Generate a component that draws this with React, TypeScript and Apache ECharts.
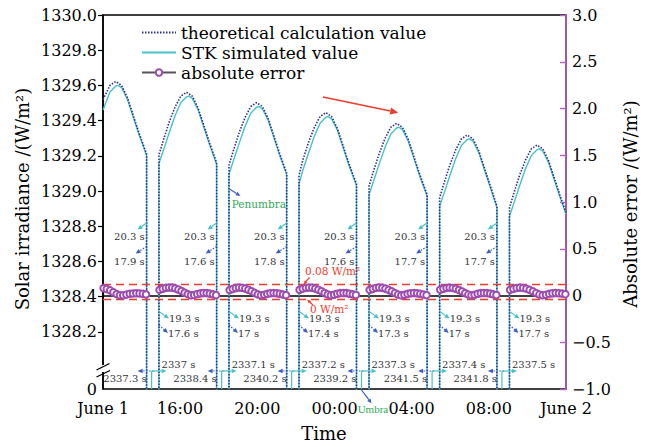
import React, { useEffect, useRef } from 'react';
import * as echarts from 'echarts';

// ---------------- data ----------------
const xTickHours = [0, 4, 8, 12, 16, 20, 24];
const xTickLabels = ['June 1', '16:00', '20:00', '00:00', '04:00', '08:00', 'June 2'];
const leftTickValues = [1328.2, 1328.4, 1328.6, 1328.8, 1329.0, 1329.2, 1329.4, 1329.6, 1329.8, 1330.0];
const leftAxisMin = 1327.875; // broken axis: bottom of axis is labelled 0
const leftAxisMax = 1330.0;

// eclipse entry / exit, hours after 12:00 June 1
const eclipseStart = [2.26, 5.89, 9.52, 13.14, 16.8, 20.42];
const eclipseEnd = [2.9, 6.53, 10.16, 13.79, 17.45, 21.07];

// [hour, W/m2]
const theoreticalValue: number[][] = [
  [0, 1329.52], [0.36, 1329.6], [0.66, 1329.622], [0.96, 1329.6], [1.26, 1329.532], [1.56, 1329.432], [1.86, 1329.332], [2.26, 1329.21],
  [2.26, 0], [2.9, 0],
  [2.9, 1329.205], [3.13, 1329.289], [3.43, 1329.391], [3.73, 1329.476], [4.03, 1329.539], [4.33, 1329.561], [4.63, 1329.539], [4.93, 1329.471], [5.23, 1329.371], [5.53, 1329.271], [5.89, 1329.161],
  [5.89, 0], [6.53, 0],
  [6.53, 1329.146], [6.76, 1329.23], [7.06, 1329.332], [7.36, 1329.417], [7.66, 1329.48], [7.96, 1329.502], [8.26, 1329.48], [8.56, 1329.412], [8.86, 1329.312], [9.16, 1329.212], [9.52, 1329.102],
  [9.52, 0], [10.16, 0],
  [10.16, 1329.089], [10.35, 1329.173], [10.65, 1329.275], [10.95, 1329.36], [11.25, 1329.423], [11.55, 1329.445], [11.85, 1329.423], [12.15, 1329.355], [12.45, 1329.255], [12.75, 1329.155], [13.14, 1329.04],
  [13.14, 0], [13.79, 0],
  [13.79, 1329.028], [14.02, 1329.112], [14.32, 1329.214], [14.62, 1329.299], [14.92, 1329.362], [15.22, 1329.384], [15.52, 1329.362], [15.82, 1329.294], [16.12, 1329.194], [16.42, 1329.094], [16.8, 1328.98],
  [16.8, 0], [17.45, 0],
  [17.45, 1328.962], [17.68, 1329.046], [17.98, 1329.148], [18.28, 1329.233], [18.58, 1329.296], [18.88, 1329.318], [19.18, 1329.296], [19.48, 1329.228], [19.78, 1329.128], [20.08, 1329.028], [20.42, 1328.915],
  [20.42, 0], [21.07, 0],
  [21.07, 1328.905], [21.3, 1328.989], [21.6, 1329.091], [21.9, 1329.176], [22.2, 1329.239], [22.5, 1329.261], [22.8, 1329.239], [23.1, 1329.171], [23.4, 1329.071], [23.7, 1328.971], [24.0, 1328.878],
];

const stkValue: number[][] = [
  [0, 1329.46], [0.36, 1329.562], [0.66, 1329.596], [0.78, 1329.6], [0.96, 1329.587], [1.26, 1329.522], [1.56, 1329.422], [1.86, 1329.322], [2.26, 1329.202],
  [2.26, 0], [2.9, 0],
  [2.9, 1329.156], [3.13, 1329.231], [3.43, 1329.331], [3.73, 1329.426], [4.03, 1329.501], [4.33, 1329.535], [4.45, 1329.539], [4.63, 1329.526], [4.93, 1329.461], [5.23, 1329.361], [5.53, 1329.261], [5.89, 1329.151],
  [5.89, 0], [6.53, 0],
  [6.53, 1329.097], [6.76, 1329.172], [7.06, 1329.272], [7.36, 1329.367], [7.66, 1329.442], [7.96, 1329.476], [8.08, 1329.48], [8.26, 1329.467], [8.56, 1329.402], [8.86, 1329.302], [9.16, 1329.202], [9.52, 1329.092],
  [9.52, 0], [10.16, 0],
  [10.16, 1329.04], [10.35, 1329.115], [10.65, 1329.215], [10.95, 1329.31], [11.25, 1329.385], [11.55, 1329.419], [11.67, 1329.423], [11.85, 1329.41], [12.15, 1329.345], [12.45, 1329.245], [12.75, 1329.145], [13.14, 1329.03],
  [13.14, 0], [13.79, 0],
  [13.79, 1328.979], [14.02, 1329.054], [14.32, 1329.154], [14.62, 1329.249], [14.92, 1329.324], [15.22, 1329.358], [15.34, 1329.362], [15.52, 1329.349], [15.82, 1329.284], [16.12, 1329.184], [16.42, 1329.084], [16.8, 1328.97],
  [16.8, 0], [17.45, 0],
  [17.45, 1328.913], [17.68, 1328.988], [17.98, 1329.088], [18.28, 1329.183], [18.58, 1329.258], [18.88, 1329.292], [19.0, 1329.296], [19.18, 1329.283], [19.48, 1329.218], [19.78, 1329.118], [20.08, 1329.018], [20.42, 1328.905],
  [20.42, 0], [21.07, 0],
  [21.07, 1328.856], [21.3, 1328.931], [21.6, 1329.031], [21.9, 1329.126], [22.2, 1329.201], [22.5, 1329.235], [22.62, 1329.239], [22.8, 1329.226], [23.1, 1329.161], [23.4, 1329.061], [23.7, 1328.961], [24.0, 1328.868],
];

// absolute error samples (W/m2) in each sunlit arc, roughly every 10 min
const errorSeg1 = [0.077, 0.07, 0.055, 0.035, 0.015, 0.003, 0.002, 0.01, 0.018, 0.022, 0.024, 0.022, 0.018, 0.012];
const errorSeg2 = [0.06, 0.072, 0.082, 0.086, 0.084, 0.076, 0.064, 0.048, 0.03, 0.014, 0.003, 0.006, 0.016, 0.023, 0.026, 0.025, 0.02, 0.012, 0.004];
const errorSeg3 = [0.058, 0.07, 0.08, 0.085, 0.083, 0.075, 0.062, 0.046, 0.028, 0.012, 0.002, 0.007, 0.017, 0.024, 0.026, 0.024, 0.019, 0.011, 0.004];
const errorSeg4 = [0.062, 0.073, 0.082, 0.086, 0.083, 0.074, 0.061, 0.045, 0.027, 0.011, 0.002, 0.008, 0.018, 0.025, 0.027, 0.025, 0.019, 0.012, 0.005];
const errorSeg5 = [0.06, 0.071, 0.081, 0.085, 0.082, 0.074, 0.06, 0.044, 0.026, 0.01, 0.001, 0.007, 0.017, 0.024, 0.026, 0.024, 0.018, 0.011, 0.004];
const errorSeg6 = [0.061, 0.072, 0.081, 0.084, 0.081, 0.072, 0.059, 0.043, 0.025, 0.01, 0.002, 0.008, 0.018, 0.025, 0.027, 0.025, 0.02, 0.012, 0.005];
const errorSeg7 = [0.06, 0.071, 0.08, 0.084, 0.081, 0.073, 0.06, 0.044, 0.026, 0.01, 0.002, 0.008, 0.017, 0.024, 0.026, 0.024, 0.02, 0.014];
const errorSegments = [errorSeg1, errorSeg2, errorSeg3, errorSeg4, errorSeg5, errorSeg6, errorSeg7];

const errorBandTop = 0.115; // dashed reference lines (drawn at marker edges)
const errorBandBottom = -0.035;

// annotation texts for each eclipse
const penumbraInSTK = ['20.3 s', '20.3 s', '20.3 s', '20.3 s', '20.3 s', '20.3 s'];
const penumbraInTheo = ['17.9 s', '17.6 s', '17.8 s', '17.6 s', '17.7 s', '17.7 s'];
const penumbraOutSTK = ['19.3 s', '19.3 s', '19.3 s', '19.3 s', '19.3 s', '19.3 s'];
const penumbraOutTheo = ['17.6 s', '17 s', '17.4 s', '17.3 s', '17 s', '17.7 s'];
const umbraSTK = ['2337 s', '2337.1 s', '2337.2 s', '2337.3 s', '2337.4 s', '2337.5 s'];
const umbraTheo = ['2337.3 s', '2338.4 s', '2340.2 s', '2339.2 s', '2341.5 s', '2341.8 s'];

// ---------------- styles ----------------
const SERIF = 'DejaVu Serif';
const NAVY = '#2b2f8f';
const CYAN = '#46c2c8';
const BLUE = '#3a5cc8';
const PURPLE = '#b65ec4';
const MARKER = '#9c4cae';
const RED = '#ee3b2b';
const GREEN = '#33a85a';
const TXT = '#333';

function buildErrorData(): (number[] | null)[] {
  const out: (number[] | null)[] = [];
  errorSegments.forEach((vals, i) => {
    const a = i === 0 ? 0 : eclipseEnd[i - 1];
    const b = i === errorSegments.length - 1 ? 24 : eclipseStart[i];
    const step = (b - a - 0.06) / (vals.length - 1);
    vals.forEach((v, j) => out.push([a + 0.03 + j * step, v]));
    out.push(null);
  });
  return out;
}

function arrow(x1: number, y1: number, x2: number, y2: number, color: string, dotted: boolean, head = 5, lw = 1.2) {
  const ang = Math.atan2(y2 - y1, x2 - x1);
  const bx = x2 - head * Math.cos(ang);
  const by = y2 - head * Math.sin(ang);
  const w = head * 0.45;
  const px = -Math.sin(ang) * w;
  const py = Math.cos(ang) * w;
  return [
    { type: 'line', z: 50, silent: true, shape: { x1, y1, x2: bx, y2: by }, style: { stroke: color, lineWidth: lw, lineDash: dotted ? [1.5, 1.5] : null } },
    { type: 'polygon', z: 50, silent: true, shape: { points: [[x2, y2], [bx + px, by + py], [bx - px, by - py]] }, style: { fill: color } },
  ];
}

function txt(s: string, x: number, y: number, align: string, color = TXT, size = 10, rotation = 0, family = SERIF) {
  return {
    type: 'text', z: 60, silent: true, x, y, rotation,
    style: { text: s, fill: color, fontSize: size, fontFamily: family, align, verticalAlign: 'middle' },
  };
}

function buildGraphics(chart: any) {
  const X = (t: number) => chart.convertToPixel({ xAxisIndex: 0 }, t) as number;
  const g: any[] = [];
  eclipseStart.forEach((s, i) => {
    const sx = X(s);
    const ex = X(eclipseEnd[i]);
    // ingress penumbra
    g.push(...arrow(sx, 223, sx - 9, 229.5, CYAN, false));
    g.push(txt(penumbraInSTK[i], sx - 2, 236, 'right'));
    g.push(...arrow(sx, 246.5, sx - 11, 253.5, BLUE, true));
    g.push(txt(penumbraInTheo[i], sx - 2, 261, 'right'));
    // egress penumbra
    g.push(...arrow(ex, 311.5, ex + 10, 318.5, CYAN, false));
    g.push(txt(penumbraOutSTK[i], ex + 10, 318.5, 'left'));
    g.push(...arrow(ex, 325, ex + 9, 333, BLUE, true));
    g.push(txt(penumbraOutTheo[i], ex + 9, 333, 'left'));
    // umbra durations
    g.push({ type: 'line', z: 50, silent: true, shape: { x1: sx + 5, y1: 371, x2: sx + 5, y2: 389 }, style: { stroke: CYAN, lineWidth: 1.2 } });
    g.push(...arrow(sx + 7, 371, sx - 9, 371, BLUE, true));
    g.push(...arrow(sx + 5, 371, sx + 20, 371, CYAN, false));
    g.push(txt(umbraSTK[i], sx + 15, 364, 'left'));
    g.push(txt(umbraTheo[i], sx, 378.5, 'right'));
  });
  // Penumbra / Umbra labels
  g.push(...arrow(X(6.58), 189.3, X(7.12), 196, BLUE, false, 4.5));
  g.push(txt('Penumbra', X(6.67), 203.5, 'left', GREEN, 10.5));
  g.push(...arrow(X(13.4), 390, X(13.92), 403.3, BLUE, false, 4.5));
  g.push(txt('Umbra', X(13.2), 409, 'left', GREEN, 11, 0, 'Liberation Serif'));
  // error band labels
  g.push(...arrow(X(10.7), 277.5, X(10.4), 284.5, RED, false, 4));
  g.push(txt('0.08 W/m²', X(10.47), 271, 'left', RED, 10.5));
  g.push(...arrow(X(10.88), 305, X(10.58), 299.5, RED, false, 4));
  g.push(txt('0 W/m²', X(10.73), 308.5, 'left', RED, 10.5));
  // trend arrow
  g.push(...arrow(X(11.4), 97, X(15.3), 112.7, RED, false, 8, 1.5));
  // broken axis mark
  const ax = X(0);
  g.push({ type: 'rect', z: 55, silent: true, shape: { x: ax - 3, y: 365, width: 6, height: 7 }, style: { fill: '#fff' } });
  g.push({ type: 'line', z: 56, silent: true, shape: { x1: ax - 6.5, y1: 370, x2: ax + 6.5, y2: 363.5 }, style: { stroke: '#000', lineWidth: 1.3 } });
  g.push({ type: 'line', z: 56, silent: true, shape: { x1: ax - 6.5, y1: 377, x2: ax + 7, y2: 370.5 }, style: { stroke: '#000', lineWidth: 1.3 } });
  // axis titles
  g.push(txt('Solar irradiance /(W/m²)', 22, 199, 'center', '#000', 18, Math.PI / 2));
  g.push(txt('Absolute error /(W/m²)', 630, 204, 'center', '#000', 18, Math.PI / 2));
  g.push(txt('Time', 324, 433, 'center', '#000', 18));
  return g;
}

function buildOption() {
  const errFmt = (v: number) => (v === 0 ? '0' : v < 0 ? '\u2212' + Math.abs(v).toFixed(1) : v.toFixed(1));
  return {
    animation: false,
    backgroundColor: '#fff',
    grid: { left: 103, right: 85, top: 15, bottom: 58, show: true, borderColor: '#000', borderWidth: 1.5, backgroundColor: 'transparent' },
    legend: {
      orient: 'vertical', left: 136, top: 19, itemWidth: 34, itemHeight: 8, itemGap: 3,
      textStyle: { fontFamily: SERIF, fontSize: 17, color: '#000' },
      data: [
        { name: 'theoretical calculation value', itemStyle: { opacity: 0 } },
        { name: 'STK simulated value', itemStyle: { opacity: 0 } },
        { name: 'absolute error', itemStyle: { color: MARKER, borderColor: MARKER }, lineStyle: { color: '#555' } },
      ],
    },
    xAxis: {
      type: 'value', min: 0, max: 24, interval: 4,
      axisLine: { show: true, lineStyle: { color: '#000', width: 1.5 } },
      axisTick: { show: true, inside: true, length: 5, lineStyle: { color: '#000', width: 1.2 } },
      axisLabel: {
        fontFamily: SERIF, fontSize: 16, color: '#000', margin: 11, showMinLabel: true, showMaxLabel: true,
        formatter: (v: number) => { const k = xTickHours.indexOf(Math.round(v)); return k >= 0 ? xTickLabels[k] : ''; },
      },
      splitLine: { show: false },
    },
    yAxis: [
      {
        type: 'value', min: leftAxisMin, max: leftAxisMax, position: 'left',
        axisLine: { show: true, lineStyle: { color: '#000', width: 1.5 } },
        axisTick: { show: true, inside: false, length: 5, customValues: leftTickValues, lineStyle: { color: '#000', width: 1.2 } },
        axisLabel: {
          fontFamily: SERIF, fontSize: 16, color: '#000', margin: 6,
          customValues: [leftAxisMin, ...leftTickValues],
          formatter: (v: number) => (v < 1328 ? '0' : v.toFixed(1)),
        },
        splitLine: { show: false },
      },
      {
        type: 'value', min: -1, max: 3, interval: 0.5, position: 'right',
        axisLine: { show: true, lineStyle: { color: PURPLE, width: 1.6 } },
        axisTick: { show: true, inside: true, length: 6, lineStyle: { color: PURPLE, width: 1.4 } },
        axisLabel: { fontFamily: SERIF, fontSize: 16, color: '#000', margin: 6, formatter: errFmt },
        splitLine: { show: false },
      },
    ],
    series: [
      {
        name: 'STK simulated value', type: 'line', yAxisIndex: 0, data: stkValue, symbol: 'none', z: 3,
        lineStyle: { color: CYAN, width: 1.4 }, itemStyle: { color: CYAN }, clip: true,
      },
      {
        name: 'theoretical calculation value', type: 'line', yAxisIndex: 0, data: theoreticalValue, symbol: 'none', z: 4,
        lineStyle: { color: NAVY, width: 1.6, type: [1.5, 1.5] }, itemStyle: { color: NAVY }, clip: true,
      },
      {
        name: 'absolute error', type: 'line', yAxisIndex: 1, data: buildErrorData(), connectNulls: false,
        symbol: 'emptyCircle', symbolSize: 6.5, showSymbol: true, z: 5,
        lineStyle: { color: '#5a3566', width: 1 },
        itemStyle: { color: MARKER, borderColor: MARKER, borderWidth: 2 },
        markLine: {
          silent: true, symbol: 'none', label: { show: false },
          lineStyle: { color: RED, type: [8, 5], width: 1.3 },
          data: [{ yAxis: errorBandTop }, { yAxis: errorBandBottom }],
        },
      },
    ],
  };
}

export default function App() {
  const ref = useRef<HTMLDivElement>(null);
  useEffect(() => {
    const chart = echarts.init(ref.current!, null, { renderer: 'svg' });
    chart.setOption(buildOption() as any);
    chart.setOption({ graphic: buildGraphics(chart) } as any);
    return () => chart.dispose();
  }, []);
  return <div ref={ref} style={{ position: 'fixed', left: 0, top: 0, width: 651, height: 447, background: '#fff' }} />;
}
